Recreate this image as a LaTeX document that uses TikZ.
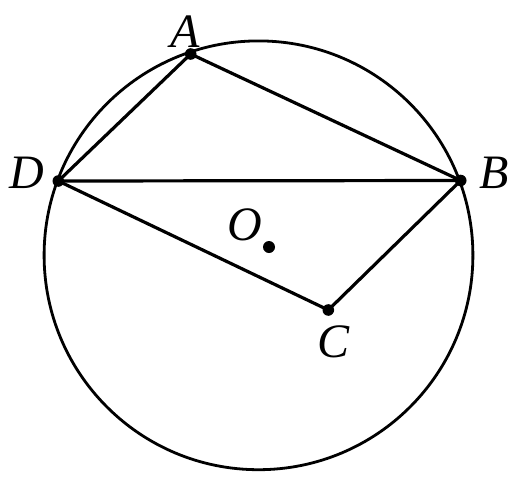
\documentclass[tikz,border=0pt]{standalone}
\usepackage{fontspec}
\setmainfont{Liberation Serif}

\begin{document}
\begin{tikzpicture}[x=0.5pt,y=-0.5pt,line width=1.6pt,
    lbl/.style={font=\fontsize{24}{28}\selectfont\itshape,inner sep=0pt}]
            \useasboundingbox (0,0) rectangle (520,483);

            \coordinate (ctr) at (258.5,255.3);
            \coordinate (A) at (190.7,54);
            \coordinate (B) at (460.7,180.5);
            \coordinate (C) at (328.3,310);
            \coordinate (D) at (58.3,181);
            \coordinate (O) at (269,247);

            \draw[line width=1.4pt] (ctr) circle [radius=107.2pt];
            \draw[line join=round] (D) -- (A) -- (B) -- (C) -- cycle;
            \draw (D) -- (B);

            \foreach \p in {A,B,C,D} \fill (\p) circle (2.9pt);
            \fill (O) circle (3pt);

            \node[lbl] (lA) at (185,32) {A};
            \node[lbl] (lB) at (494,173) {B};
            \node[lbl] (lC) at (334,342) {C};
            \node[lbl] (lD) at (27,173) {D};
            \node[lbl] (lO) at (245,225) {O};
        \end{tikzpicture}
\end{document}
